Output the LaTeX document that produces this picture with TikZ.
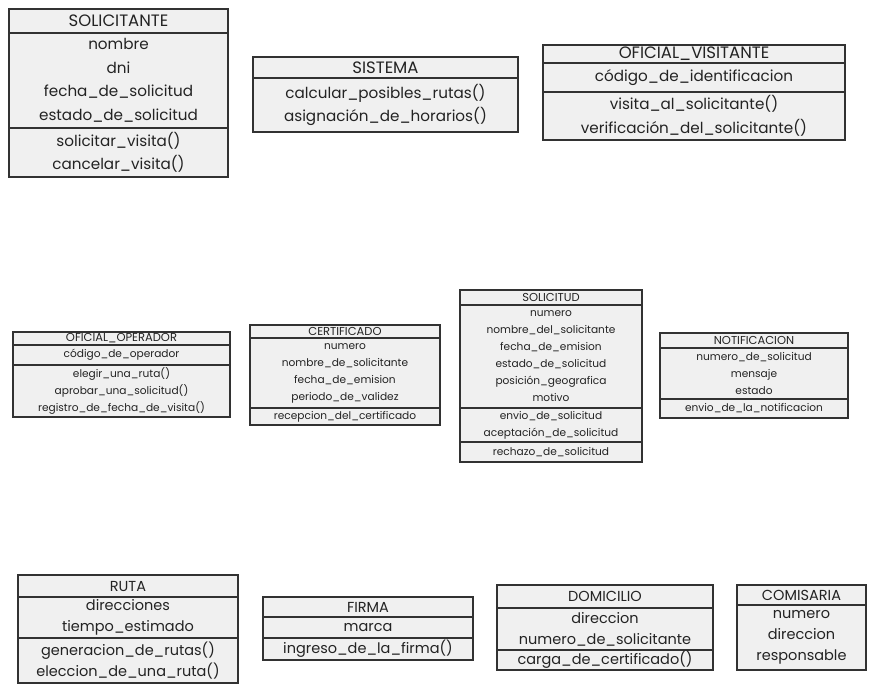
\documentclass[tikz,border=0pt]{standalone}
\usepackage{fontspec}
\setmainfont{Poppins}
\usetikzlibrary{positioning}
\definecolor{boxfill}{RGB}{240,240,240}
\definecolor{boxline}{RGB}{50,50,50}
\definecolor{inkgray}{RGB}{35,35,35}

\tikzset{
  box/.style={draw=boxline, fill=boxfill, line width=1.1pt, align=center,
    inner xsep=0pt, inner ysep=0pt, outer sep=0pt, text=inkgray},
  bighead/.style={font=\fontsize{16.5}{23}\selectfont},
  bigtxt/.style={font=\fontsize{15.2}{23.5}\selectfont},
  midhead/.style={font=\fontsize{11.5}{17}\selectfont},
  midtxt/.style={font=\fontsize{10.6}{17}\selectfont},
  lowtxt/.style={font=\fontsize{14.5}{21}\selectfont}
}

\begin{document}
\begin{tikzpicture}[x=1pt, y=-1pt]
\useasboundingbox[fill=white] (0,0) rectangle (878,684);

\node[box, bighead, text width=219pt, minimum height=24pt, anchor=north west] (solicitante) at (9,9) {SOLICITANTE};
\node[box, bigtxt, text width=219pt, minimum height=95pt, below=0pt of solicitante] (solicitante-attr) {nombre\\dni\\fecha\_de\_solicitud\\estado\_de\_solicitud};
\node[box, bigtxt, text width=219pt, minimum height=49pt, below=0pt of solicitante-attr] (solicitante-met) {solicitar\_visita()\\cancelar\_visita()};

\node[box, bighead, text width=265pt, minimum height=21pt, anchor=north west] (sistema) at (253,57) {SISTEMA};
\node[box, bigtxt, text width=265pt, minimum height=54pt, below=0pt of sistema] (sistema-met) {calcular\_posibles\_rutas()\\asignación\_de\_horarios()};

\node[box, bighead, text width=302pt, minimum height=18pt, anchor=north west] (visitante) at (543,45) {OFICIAL\_VISITANTE};
\node[box, bigtxt, text width=302pt, minimum height=29pt, below=0pt of visitante] (visitante-attr) {código\_de\_identificacion};
\node[box, bigtxt, text width=302pt, minimum height=48pt, below=0pt of visitante-attr] (visitante-met) {visita\_al\_solicitante()\\verificación\_del\_solicitante()};

\node[box, midhead, text width=217pt, minimum height=13pt, anchor=north west] (operador) at (13,332) {OFICIAL\_OPERADOR};
\node[box, midtxt, text width=217pt, minimum height=20pt, below=0pt of operador] (operador-attr) {código\_de\_operador};
\node[box, midtxt, text width=217pt, minimum height=52pt, below=0pt of operador-attr] (operador-met) {elegir\_una\_ruta()\\aprobar\_una\_solicitud()\\registro\_de\_fecha\_de\_visita()};

\node[box, midhead, text width=190pt, minimum height=13pt, anchor=north west] (certificado) at (250,325) {CERTIFICADO};
\node[box, midtxt, text width=190pt, minimum height=70pt, below=0pt of certificado] (certificado-attr) {numero\\nombre\_de\_solicitante\\fecha\_de\_emision\\periodo\_de\_validez};
\node[box, midtxt, text width=190pt, minimum height=17pt, below=0pt of certificado-attr] (certificado-met) {recepcion\_del\_certificado};

\node[box, midhead, text width=182pt, minimum height=15pt, anchor=north west] (solicitud) at (460,290) {SOLICITUD};
\node[box, midtxt, text width=182pt, minimum height=103pt, below=0pt of solicitud] (solicitud-attr) {numero\\nombre\_del\_solicitante\\fecha\_de\_emision\\estado\_de\_solicitud\\posición\_geografica\\motivo};
\node[box, midtxt, text width=182pt, minimum height=34pt, below=0pt of solicitud-attr] (solicitud-met) {envio\_de\_solicitud\\aceptación\_de\_solicitud};
\node[box, midtxt, text width=182pt, minimum height=20pt, below=0pt of solicitud-met] (solicitud-rech) {rechazo\_de\_solicitud};

\node[box, midhead, text width=188pt, minimum height=15pt, anchor=north west] (notificacion) at (660,333) {NOTIFICACION};
\node[box, midtxt, text width=188pt, minimum height=51pt, below=0pt of notificacion] (notificacion-attr) {numero\_de\_solicitud\\mensaje\\estado};
\node[box, midtxt, text width=188pt, minimum height=19pt, below=0pt of notificacion-attr] (notificacion-met) {envio\_de\_la\_notificacion};

\node[box, lowtxt, text width=220pt, minimum height=22pt, anchor=north west] (ruta) at (18,575) {RUTA};
\node[box, lowtxt, text width=220pt, minimum height=41pt, below=0pt of ruta] (ruta-attr) {direcciones\\tiempo\_estimado};
\node[box, lowtxt, text width=220pt, minimum height=45pt, below=0pt of ruta-attr] (ruta-met) {generacion\_de\_rutas()\\eleccion\_de\_una\_ruta()};

\node[box, lowtxt, text width=210pt, minimum height=20pt, anchor=north west] (firma) at (263,597) {FIRMA};
\node[box, lowtxt, text width=210pt, minimum height=21pt, below=0pt of firma] (firma-attr) {marca};
\node[box, lowtxt, text width=210pt, minimum height=22pt, below=0pt of firma-attr] (firma-met) {ingreso\_de\_la\_firma()};

\node[box, lowtxt, text width=216pt, minimum height=23pt, anchor=north west] (domicilio) at (497,585) {DOMICILIO};
\node[box, lowtxt, text width=216pt, minimum height=42pt, below=0pt of domicilio] (domicilio-attr) {direccion\\numero\_de\_solicitante};
\node[box, lowtxt, text width=216pt, minimum height=20pt, below=0pt of domicilio-attr] (domicilio-met) {carga\_de\_certificado()};

\node[box, lowtxt, text width=129pt, minimum height=20pt, anchor=north west] (comisaria) at (737,585) {COMISARIA};
\node[box, lowtxt, text width=129pt, minimum height=65pt, below=0pt of comisaria] (comisaria-attr) {numero\\direccion\\responsable};
\end{tikzpicture}
\end{document}
